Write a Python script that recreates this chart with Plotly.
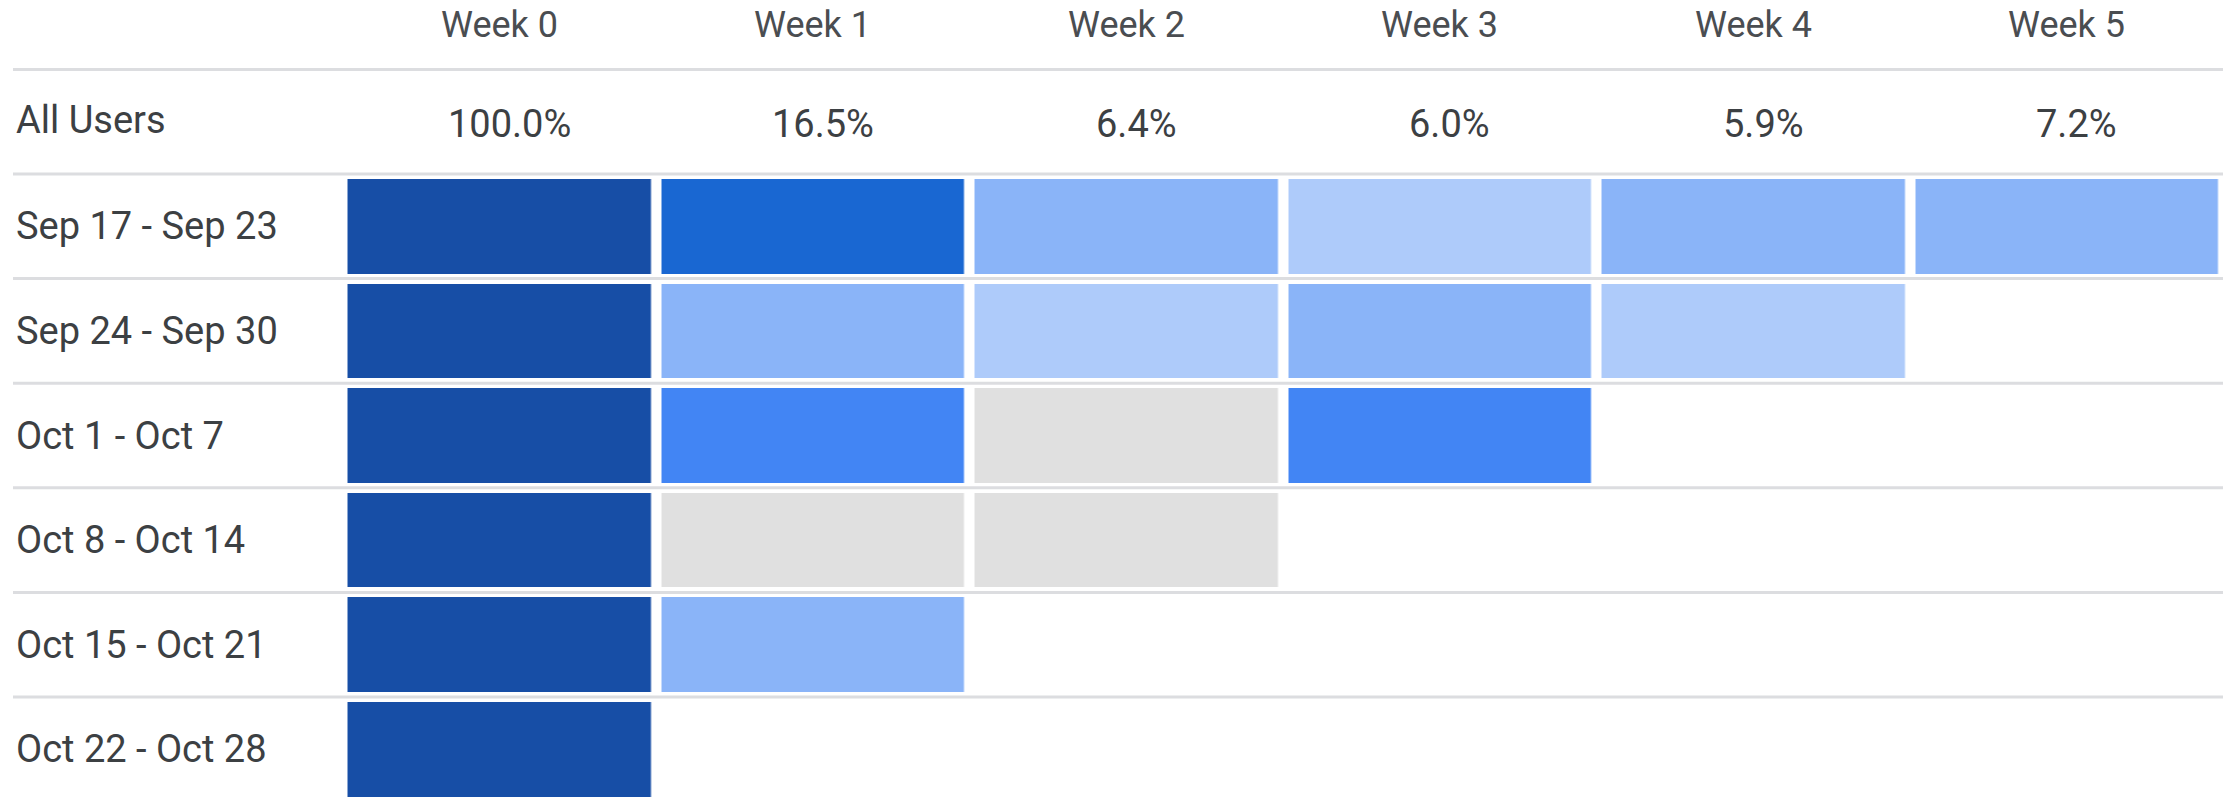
import plotly.graph_objects as go

# ---------------- data ----------------
weeks = ["Week 0", "Week 1", "Week 2", "Week 3", "Week 4", "Week 5"]
all_users = ["100.0%", "16.5%", "6.4%", "6.0%", "5.9%", "7.2%"]
cohorts = ["Sep 17 - Sep 23", "Sep 24 - Sep 30", "Oct 1 - Oct 7",
           "Oct 8 - Oct 14", "Oct 15 - Oct 21", "Oct 22 - Oct 28"]
# retention % per cohort (estimated from cell shading; None = no data yet)
ret_sep17 = [100.0, 26.0, 8.5, 4.5, 8.0, 7.2]
ret_sep24 = [100.0, 8.0, 4.0, 8.0, 3.8]
ret_oct01 = [100.0, 14.0, 0.0, 12.0]
ret_oct08 = [100.0, 0.0, 0.0]
ret_oct15 = [100.0, 7.5]
ret_oct22 = [100.0]

rows = [ret_sep17, ret_sep24, ret_oct01, ret_oct08, ret_oct15, ret_oct22]
z = [r + [None] * (len(weeks) - len(r)) for r in rows]

# ---------------- styling / geometry ----------------
W, H = 2226, 798
col_pitch, col0_center = 313.5, 499.2
row_pitch, row0_center = 104.6, 226.3
GRAY, B200, B300, B500, B700, B900 = "#e0e0e0", "#aecbfa", "#8ab4f8", "#4285f4", "#1967d2", "#174ea6"
colorscale = [
    [0.0, GRAY], [0.005, GRAY],
    [0.005, B200], [0.05, B200],
    [0.05, B300], [0.10, B300],
    [0.10, B500], [0.20, B500],
    [0.20, B700], [0.50, B700],
    [0.50, B900], [1.0, B900],
]
TEXT = "#3c4043"
FONT = "Roboto"

xr = [-col0_center / col_pitch, (W - col0_center) / col_pitch]
yr = [(H - row0_center) / row_pitch, -row0_center / row_pitch]

fig = go.Figure(go.Heatmap(
    z=z, x=list(range(len(weeks))), y=list(range(len(cohorts))),
    colorscale=colorscale, zmin=0, zmax=100, showscale=False,
    xgap=10.5, ygap=10, hoverongaps=False,
))

# separator lines
for k in range(-1, len(cohorts)):
    yv = k - 0.5
    fig.add_shape(type="line", xref="paper", yref="y",
                  x0=13 / W, x1=2223 / W, y0=yv, y1=yv,
                  line=dict(color="#dcdde0", width=3), layer="below")

label_x = xr[0] + 14 / col_pitch
header_y = (25 - row0_center) / row_pitch
value_y = (123.5 - row0_center) / row_pitch
# headers
for i, wk in enumerate(weeks):
    fig.add_annotation(x=i, y=header_y, text=wk, showarrow=False,
                       xref="x", yref="y", xanchor="center", yanchor="middle",
                       font=dict(family=FONT, size=36, color="#4a4d51"))
# all users row
fig.add_annotation(x=label_x, y=-1.02, text="All Users", showarrow=False,
                   xanchor="left", yanchor="middle",
                   font=dict(family=FONT, size=38, color=TEXT))
for i, v in enumerate(all_users):
    fig.add_annotation(x=i + 10 / col_pitch, y=value_y, text=v, showarrow=False,
                       xanchor="center", yanchor="middle",
                       font=dict(family=FONT, size=38, color=TEXT))
# cohort labels
for j, c in enumerate(cohorts):
    fig.add_annotation(x=label_x, y=j, text=c, showarrow=False,
                       xanchor="left", yanchor="middle",
                       font=dict(family=FONT, size=38, color=TEXT))

fig.update_layout(
    width=W, height=H, margin=dict(l=0, r=0, t=0, b=0),
    paper_bgcolor="white", plot_bgcolor="white",
    xaxis=dict(range=xr, visible=False, fixedrange=True),
    yaxis=dict(range=yr, visible=False, fixedrange=True),
    showlegend=False,
)
fig.write_html("out.html", config={"displayModeBar": False},
               post_script="document.body.style.margin='0';document.body.style.overflow='hidden';")
